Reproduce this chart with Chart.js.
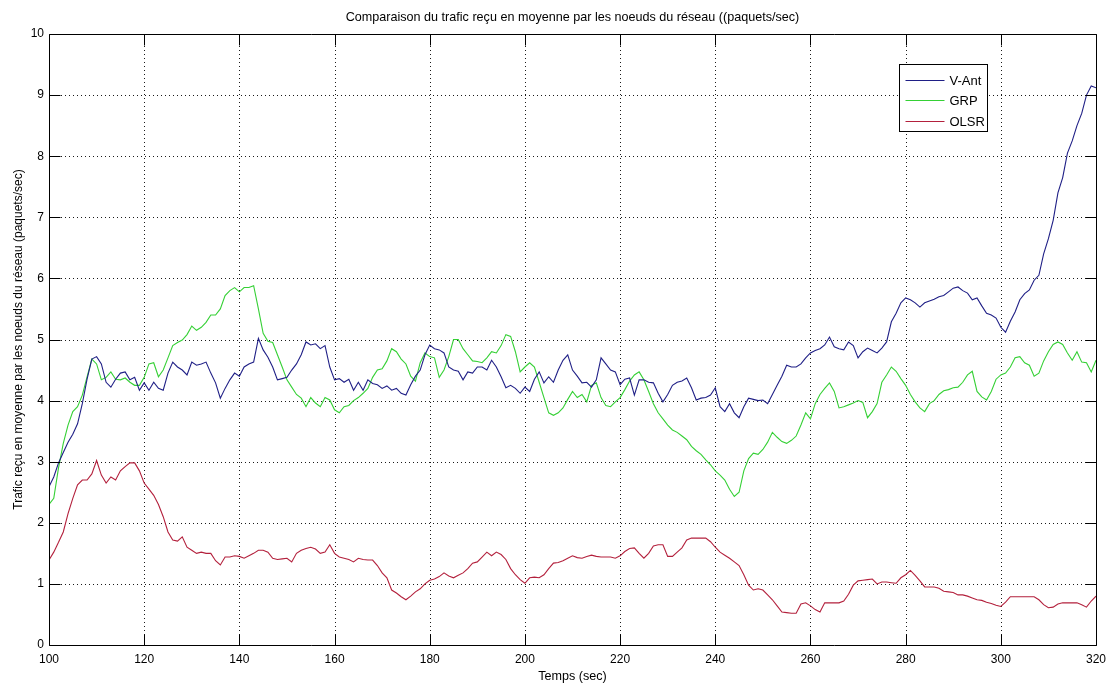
<!DOCTYPE html>
<html lang="fr">
<head>
<meta charset="utf-8">
<title>Trafic reçu en moyenne</title>
<script src="https://cdn.jsdelivr.net/npm/chart.js@4.4.1/dist/chart.umd.min.js"></script>
<style>
  html, body { margin: 0; padding: 0; background: #fff; }
  #wrap { width: 1106px; height: 684px; }
</style>
</head>
<body>
<div id="wrap"><canvas id="c" width="1106" height="684"></canvas></div>
<script>
// Sampling instants (s)
const times = [
  100,101,102,103,104,105,106,107,108,109,110,111,112,113,114,115,116,117,118,119,
  120,121,122,123,124,125,126,127,128,129,130,131,132,133,134,135,136,137,138,139,
  140,141,142,143,144,145,146,147,148,149,150,151,152,153,154,155,156,157,158,159,
  160,161,162,163,164,165,166,167,168,169,170,171,172,173,174,175,176,177,178,179,
  180,181,182,183,184,185,186,187,188,189,190,191,192,193,194,195,196,197,198,199,
  200,201,202,203,204,205,206,207,208,209,210,211,212,213,214,215,216,217,218,219,
  220,221,222,223,224,225,226,227,228,229,230,231,232,233,234,235,236,237,238,239,
  240,241,242,243,244,245,246,247,248,249,250,251,252,253,254,255,256,257,258,259,
  260,261,262,263,264,265,266,267,268,269,270,271,272,273,274,275,276,277,278,279,
  280,281,282,283,284,285,286,287,288,289,290,291,292,293,294,295,296,297,298,299,
  300,301,302,303,304,305,306,307,308,309,310,311,312,313,314,315,316,317,318,319,
  320
];

// Average received traffic per node (packets/s)
const vAnt = [
  2.59,2.75,2.98,3.15,3.32,3.45,3.62,3.95,4.35,4.68,
  4.72,4.60,4.30,4.22,4.35,4.45,4.47,4.34,4.38,4.17,
  4.29,4.17,4.30,4.20,4.17,4.45,4.63,4.55,4.50,4.42,
  4.63,4.58,4.60,4.63,4.45,4.29,4.04,4.20,4.34,4.45,
  4.40,4.55,4.60,4.63,5.02,4.83,4.71,4.55,4.34,4.36,
  4.38,4.50,4.60,4.75,4.96,4.91,4.93,4.85,4.90,4.55,
  4.34,4.36,4.30,4.35,4.17,4.30,4.17,4.34,4.28,4.26,
  4.20,4.24,4.17,4.20,4.12,4.09,4.26,4.40,4.50,4.75,
  4.91,4.85,4.83,4.78,4.55,4.50,4.48,4.34,4.47,4.45,
  4.55,4.55,4.50,4.66,4.55,4.39,4.21,4.25,4.20,4.12,
  4.22,4.15,4.35,4.47,4.29,4.39,4.30,4.50,4.66,4.75,
  4.50,4.40,4.29,4.30,4.22,4.34,4.70,4.60,4.50,4.47,
  4.26,4.35,4.37,4.09,4.34,4.34,4.30,4.29,4.12,3.98,
  4.10,4.25,4.30,4.32,4.37,4.21,4.01,4.04,4.05,4.09,
  4.21,3.90,3.82,3.95,3.80,3.72,3.90,4.04,4.02,4.00,
  4.01,3.95,4.10,4.25,4.40,4.58,4.55,4.55,4.60,4.70,
  4.78,4.82,4.85,4.91,5.04,4.88,4.85,4.83,4.96,4.90,
  4.70,4.80,4.86,4.82,4.78,4.86,4.96,5.29,5.43,5.60,
  5.68,5.65,5.60,5.53,5.60,5.63,5.66,5.70,5.72,5.78,
  5.84,5.86,5.80,5.76,5.65,5.68,5.55,5.43,5.40,5.35,
  5.20,5.12,5.30,5.45,5.65,5.75,5.81,5.97,6.05,6.40,
  6.65,6.95,7.40,7.65,8.05,8.25,8.50,8.70,9.00,9.15,
  9.12
];

const grp = [
  2.30,2.40,2.90,3.30,3.60,3.82,3.90,4.09,4.39,4.68,
  4.60,4.34,4.38,4.47,4.35,4.34,4.37,4.30,4.25,4.25,
  4.38,4.60,4.62,4.39,4.50,4.70,4.90,4.95,4.99,5.08,
  5.22,5.15,5.20,5.28,5.40,5.40,5.50,5.72,5.80,5.85,
  5.78,5.85,5.85,5.88,5.50,5.10,4.97,4.95,4.75,4.55,
  4.34,4.22,4.10,4.04,3.90,4.05,3.96,3.90,4.05,4.01,
  3.85,3.80,3.90,3.92,4.00,4.05,4.12,4.20,4.38,4.50,
  4.52,4.65,4.85,4.80,4.68,4.60,4.40,4.32,4.62,4.78,
  4.72,4.70,4.38,4.50,4.72,5.00,5.00,4.85,4.75,4.65,
  4.64,4.62,4.70,4.80,4.78,4.90,5.08,5.05,4.80,4.47,
  4.55,4.62,4.55,4.30,4.05,3.80,3.76,3.80,3.88,4.02,
  4.15,4.05,4.10,3.98,4.25,4.29,4.05,3.92,3.90,3.98,
  4.05,4.18,4.32,4.42,4.47,4.34,4.15,3.95,3.80,3.70,
  3.60,3.52,3.48,3.42,3.36,3.25,3.18,3.12,3.03,2.95,
  2.85,2.78,2.70,2.55,2.43,2.50,2.85,3.05,3.14,3.12,
  3.20,3.32,3.48,3.40,3.33,3.30,3.35,3.42,3.60,3.80,
  3.70,3.95,4.10,4.20,4.29,4.15,3.88,3.90,3.93,3.96,
  4.00,3.97,3.72,3.82,3.95,4.30,4.42,4.55,4.48,4.36,
  4.25,4.10,3.98,3.88,3.82,3.95,4.00,4.10,4.16,4.18,
  4.21,4.22,4.30,4.42,4.48,4.15,4.06,4.01,4.15,4.35,
  4.42,4.45,4.55,4.70,4.72,4.62,4.58,4.40,4.45,4.65,
  4.80,4.92,4.96,4.92,4.78,4.66,4.80,4.63,4.62,4.47,
  4.66
];

const olsr = [
  1.39,1.52,1.68,1.85,2.15,2.40,2.62,2.70,2.70,2.80,
  3.02,2.78,2.65,2.75,2.70,2.85,2.92,2.98,2.98,2.85,
  2.65,2.55,2.45,2.30,2.10,1.85,1.72,1.70,1.77,1.60,
  1.55,1.50,1.52,1.50,1.50,1.38,1.31,1.44,1.44,1.46,
  1.45,1.42,1.46,1.50,1.55,1.55,1.52,1.42,1.40,1.41,
  1.42,1.36,1.50,1.55,1.58,1.60,1.57,1.50,1.52,1.64,
  1.50,1.44,1.42,1.40,1.36,1.42,1.40,1.39,1.39,1.30,
  1.18,1.10,0.90,0.85,0.79,0.74,0.80,0.87,0.92,1.00,
  1.06,1.08,1.12,1.18,1.13,1.10,1.14,1.18,1.25,1.34,
  1.36,1.44,1.52,1.46,1.52,1.48,1.40,1.25,1.15,1.07,
  1.01,1.10,1.11,1.10,1.15,1.25,1.34,1.35,1.38,1.42,
  1.46,1.43,1.42,1.45,1.47,1.45,1.44,1.44,1.44,1.42,
  1.46,1.53,1.58,1.59,1.50,1.42,1.50,1.62,1.64,1.64,
  1.45,1.45,1.52,1.59,1.72,1.75,1.75,1.75,1.75,1.69,
  1.60,1.52,1.47,1.42,1.36,1.30,1.15,0.98,0.90,0.92,
  0.90,0.82,0.74,0.64,0.54,0.53,0.52,0.52,0.67,0.69,
  0.64,0.58,0.54,0.69,0.69,0.69,0.69,0.72,0.83,0.98,
  1.05,1.06,1.07,1.08,1.00,1.03,1.03,1.02,1.01,1.10,
  1.15,1.22,1.14,1.05,0.95,0.95,0.95,0.93,0.88,0.87,
  0.86,0.82,0.82,0.80,0.77,0.74,0.73,0.70,0.68,0.65,
  0.63,0.70,0.79,0.79,0.79,0.79,0.79,0.79,0.74,0.66,
  0.61,0.62,0.67,0.69,0.69,0.69,0.69,0.66,0.62,0.72,
  0.80
];

const seriesNames = ['V-Ant', 'GRP', 'OLSR'];
const xTicks = [100, 120, 140, 160, 180, 200, 220, 240, 260, 280, 300, 320];
const yTicks = [0, 1, 2, 3, 4, 5, 6, 7, 8, 9, 10];
const chartTitle = 'Comparaison du trafic reçu en moyenne par les noeuds du réseau ((paquets/sec)';

const FONT = '"Liberation Sans", Arial, Helvetica, sans-serif';
Chart.defaults.font.family = FONT;
Chart.defaults.font.size = 12;
Chart.defaults.color = '#000';

const toPoints = vals => vals.map((v, i) => ({ x: times[i], y: v }));

// Dotted grid under the curves; frame with inward ticks, legend and title over them
const axesFrame = {
  id: 'axesFrame',
  beforeDatasetsDraw(chart) {
    const { ctx, chartArea: a, scales: { x, y } } = chart;
    ctx.save();
    ctx.strokeStyle = '#1a1a1a';
    ctx.lineWidth = 1;
    ctx.setLineDash([1, 3]);
    ctx.beginPath();
    x.ticks.forEach(t => {
      const px = Math.round(x.getPixelForValue(t.value)) + 0.5;
      if (px > a.left + 2 && px < a.right - 2) { ctx.moveTo(px, a.top); ctx.lineTo(px, a.bottom); }
    });
    y.ticks.forEach(t => {
      const py = Math.round(y.getPixelForValue(t.value)) + 0.5;
      if (py > a.top + 2 && py < a.bottom - 2) { ctx.moveTo(a.left, py); ctx.lineTo(a.right, py); }
    });
    ctx.stroke();
    ctx.restore();
  },
  afterDatasetsDraw(chart) {
    const { ctx, chartArea: a, scales: { x, y } } = chart;
    const L = Math.round(a.left) + 0.5, R = Math.round(a.right) + 0.5;
    const T = Math.round(a.top) + 0.5, B = Math.round(a.bottom) + 0.5;
    const tl = 11;
    ctx.save();
    ctx.strokeStyle = '#000';
    ctx.lineWidth = 1;
    ctx.setLineDash([]);
    ctx.beginPath();
    ctx.rect(L, T, R - L, B - T);
    x.ticks.forEach(t => {
      const px = Math.round(x.getPixelForValue(t.value)) + 0.5;
      ctx.moveTo(px, B); ctx.lineTo(px, B - tl);
      ctx.moveTo(px, T); ctx.lineTo(px, T + tl);
    });
    y.ticks.forEach(t => {
      const py = Math.round(y.getPixelForValue(t.value)) + 0.5;
      ctx.moveTo(L, py); ctx.lineTo(L + tl, py);
      ctx.moveTo(R, py); ctx.lineTo(R - tl, py);
    });
    ctx.stroke();

    // title, centred over the plotting area
    ctx.fillStyle = '#000';
    ctx.font = '12.6px ' + FONT;
    ctx.textAlign = 'center';
    ctx.textBaseline = 'middle';
    ctx.fillText(chartTitle, (a.left + a.right) / 2, a.top - 16);

    // legend box
    const bx = Math.round(a.right) - 197 + 0.5, by = Math.round(a.top) + 30 + 0.5;
    const bw = 88, bh = 67;
    ctx.fillStyle = '#fff';
    ctx.fillRect(bx, by, bw, bh);
    ctx.strokeRect(bx, by, bw, bh);
    ctx.font = '13px ' + FONT;
    ctx.textBaseline = 'middle';
    ctx.textAlign = 'left';
    chart.data.datasets.forEach((ds, i) => {
      const ry = Math.round(by + 15 + i * 20.5) + 0.5;
      ctx.strokeStyle = ds.borderColor;
      ctx.lineWidth = 1.2;
      ctx.beginPath();
      ctx.moveTo(bx + 6, ry); ctx.lineTo(bx + 45, ry);
      ctx.stroke();
      ctx.fillStyle = '#000';
      ctx.fillText(ds.label, bx + 50, ry + 0.5);
    });
    ctx.restore();
  }
};

new Chart(document.getElementById('c'), {
  type: 'line',
  data: {
    datasets: [
      { label: seriesNames[0], data: toPoints(vAnt), borderColor: '#1f1f86' },
      { label: seriesNames[1], data: toPoints(grp), borderColor: '#35d035' },
      { label: seriesNames[2], data: toPoints(olsr), borderColor: '#b3203c' }
    ]
  },
  options: {
    responsive: false,
    animation: false,
    devicePixelRatio: 1,
    layout: { padding: { left: 0, right: 0, top: 34, bottom: 0 } },
    elements: {
      point: { radius: 0, hoverRadius: 0 },
      line: { borderWidth: 1.1, tension: 0 }
    },
    plugins: {
      legend: { display: false },
      tooltip: { enabled: false },
      title: { display: false }
    },
    scales: {
      x: {
        type: 'linear',
        min: 100,
        max: 320,
        afterBuildTicks: s => { s.ticks = xTicks.map(v => ({ value: v })); },
        afterFit: s => { s.height = 39; s.paddingLeft = 10; s.paddingRight = 10; },
        ticks: { padding: 7, color: '#000', font: { size: 12 } },
        grid: { display: false, drawTicks: false },
        border: { display: false },
        title: { display: true, text: 'Temps (sec)', color: '#000', font: { size: 12.6 }, padding: { top: 0, bottom: 0 } }
      },
      y: {
        type: 'linear',
        min: 0,
        max: 10,
        afterBuildTicks: s => { s.ticks = yTicks.map(v => ({ value: v })); },
        afterFit: s => { s.width = 49; },
        ticks: { padding: 5, color: '#000', font: { size: 12 } },
        grid: { display: false, drawTicks: false },
        border: { display: false },
        title: {
          display: true,
          text: 'Trafic reçu en moyenne par les noeuds du réseau (paquets/sec)',
          color: '#000',
          font: { size: 12 },
          padding: { top: 11, bottom: 0 }
        }
      }
    }
  },
  plugins: [axesFrame]
});
</script>
</body>
</html>
